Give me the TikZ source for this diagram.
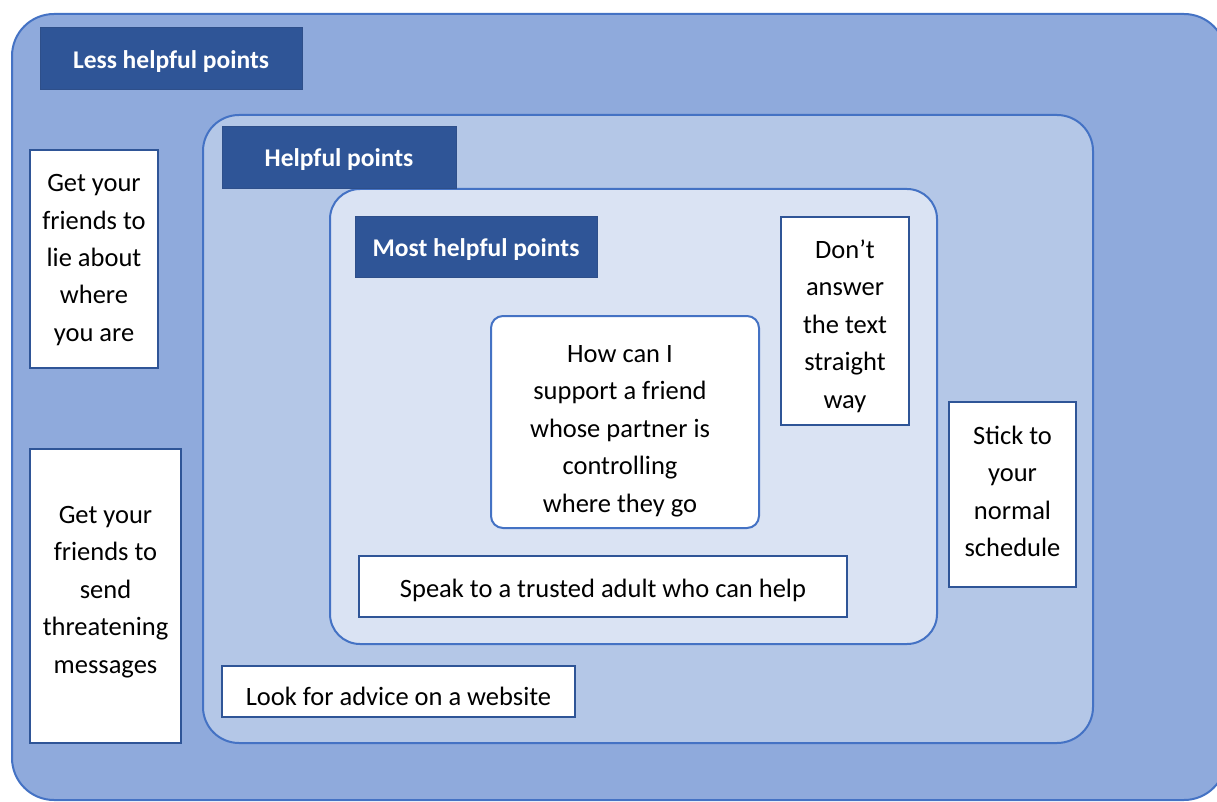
\documentclass[tikz,border=0pt]{standalone}
\usepackage{fontspec}
\setmainfont{Carlito}
\definecolor{outerfill}{HTML}{8FAADC}
\definecolor{midfill}{HTML}{B4C7E7}
\definecolor{innerfill}{HTML}{DAE3F3}
\definecolor{edgeblue}{HTML}{4472C4}
\definecolor{labelblue}{HTML}{2F5597}
\definecolor{labeledge}{HTML}{2E4F8A}
\tikzset{
  container/.style={draw=edgeblue, line width=2pt},
  heading/.style={fill=labelblue, draw=labeledge, line width=0.8pt, inner sep=0pt},
  headtext/.style={text=white, inner sep=0pt, font=\fontsize{25.5}{30}\selectfont\bfseries},
  card/.style={fill=white, draw=labelblue, line width=2pt, inner sep=0pt},
  question/.style={fill=white, draw=edgeblue, line width=2pt, rounded corners=12pt, inner sep=0pt},
  cardtext/.style={inner sep=0pt, align=center, font=\fontsize{26.5}{37.4}\selectfont},
}
\begin{document}
\begin{tikzpicture}[x=1pt,y=-1pt]
\useasboundingbox (0,0) rectangle (1217,802);
\clip (0,0) rectangle (1217,802);
\fill[white] (0,0) rectangle (1217,802);
% containers
\draw[container, fill=outerfill, rounded corners=42pt] (12,14) rectangle (1226,800);
\draw[container, fill=midfill, rounded corners=36pt] (203,115) rectangle (1093,743);
\draw[container, fill=innerfill, rounded corners=30pt] (330,189) rectangle (937,644);
% headings
\node[heading, minimum width=262pt, minimum height=62pt] (less) at (171,58) {};
\node[headtext] (lesst) at ([yshift=-4pt]less.center) {Less helpful points};
\node[heading, minimum width=234pt, minimum height=62pt] (helpful) at (339,157) {};
\node[headtext] (helpfult) at ([yshift=-2.5pt]helpful.center) {Helpful points};
\node[heading, minimum width=242pt, minimum height=61pt] (most) at (476,246.5) {};
\node[headtext] (mostt) at ([yshift=-3.5pt]most.center) {Most helpful points};
% question
\node[question, minimum width=268pt, minimum height=212pt] (q) at (625,422) {};
\node[cardtext] (qt) at ([xshift=-5pt,yshift=-9pt]q.center)
  {How can I\\support a friend\\whose partner is\\controlling\\where they go};
% cards
\node[card, minimum width=128pt, minimum height=208pt] (dont) at (845,321) {};
\node[cardtext] (dontt) at ([yshift=-5pt]dont.center)
  {Don’t\\answer\\the text\\straight\\way};
\node[card, minimum width=127pt, minimum height=185pt] (stick) at (1012.5,494.5) {};
\node[cardtext] (stickt) at ([yshift=3pt]stick.center)
  {Stick to\\your\\normal\\schedule};
\node[card, minimum width=488pt, minimum height=61pt] (speak) at (603,586.5) {};
\node[cardtext] (speakt) at ([yshift=-4pt]speak.center)
  {Speak to a trusted adult who can help};
\node[card, minimum width=353pt, minimum height=51pt] (advice) at (398.5,691.5) {};
\node[cardtext] (advicet) at ([yshift=-5pt]advice.center)
  {Look for advice on a website};
\node[card, minimum width=128pt, minimum height=218pt] (lie) at (94,259) {};
\node[cardtext] (liet) at ([yshift=-1pt]lie.center)
  {Get your\\friends to\\lie about\\where\\you are};
\node[card, minimum width=151pt, minimum height=294pt] (send) at (105.5,596) {};
\node[cardtext] (sendt) at ([yshift=4pt]send.center)
  {Get your\\friends to\\send\\threatening\\messages};
\end{tikzpicture}
\end{document}
